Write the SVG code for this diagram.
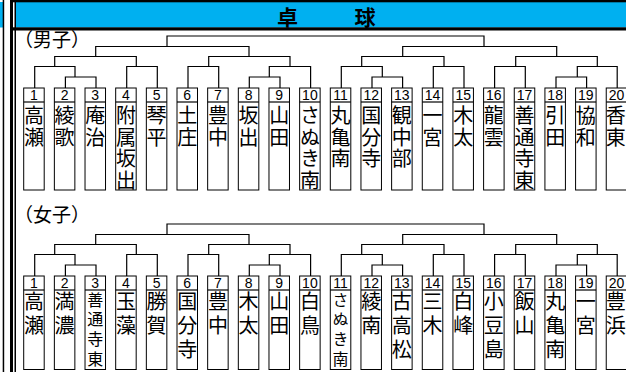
<svg xmlns="http://www.w3.org/2000/svg" width="626" height="372" viewBox="0 0 626 372">
<style>
.box{fill:#fff;stroke:#000;stroke-width:1}
.num{font-family:"Liberation Sans",Arial,sans-serif;font-size:14px;text-anchor:middle;fill:#000}
.nm{font-family:"Noto Sans CJK JP",sans-serif;font-size:20px;writing-mode:vertical-rl;text-anchor:start;fill:#000}
.mv{letter-spacing:1.7px}
.wv{letter-spacing:4px}
.ws{font-size:16px;letter-spacing:3.7px}
.conn{fill:none;stroke:#000;stroke-width:1.2}
.lbl{font-family:"Noto Sans CJK JP",sans-serif;font-size:19px;fill:#000}
.ttl{font-family:"Noto Sans CJK JP",sans-serif;font-size:21px;font-weight:bold;text-anchor:middle;fill:#000}
</style>
<rect width="626" height="372" fill="#fff"/>
<g id="frame">
<rect x="0" y="2" width="3" height="25.5" fill="#00B0F0"/>
<rect x="16" y="2" width="610" height="25.5" fill="#00B0F0"/>
<rect x="10" y="0" width="616" height="2.3" fill="#000"/>
<rect x="10" y="27.3" width="616" height="3.2" fill="#000"/>
<rect x="2.7" y="0" width="1.5" height="372" fill="#000"/>
<rect x="10" y="0" width="3" height="372" fill="#000"/>
<rect x="14.5" y="0" width="1.5" height="372" fill="#000"/>
</g>
<g id="title">
<text class="ttl" x="287.5" y="25">卓</text>
<text class="ttl" x="365" y="25">球</text>
</g>
<text id="lbl-men" class="lbl" x="14" y="47">（男子）</text>
<text id="lbl-women" class="lbl" x="14" y="221.5">（女子）</text>
<defs>
<g id="bracket">
<path d="M167,46.5V36H484V46.5"/>
<path d="M95.7,56.5V46.5H249V56.5"/>
<path d="M402.7,56.5V46.5H556.7V56.5"/>
<path d="M54.7,66.5V56.5H136.3V66.5"/>
<path d="M208.7,66.5V56.5H290V66.5"/>
<path d="M361.7,66.5V56.5H444V66.5"/>
<path d="M515.7,66.5V56.5H597.3V66.5"/>
<path d="M34.7,88V66.5H75V77"/>
<path d="M126.7,88V66.5H157.3V88"/>
<path d="M188,88V66.5H218.7V88"/>
<path d="M269.3,77V66.5H310.6V88"/>
<path d="M341.3,88V66.5H382.3V77"/>
<path d="M433.3,88V66.5H464V88"/>
<path d="M494.6,88V66.5H525.3V88"/>
<path d="M577.3,77V66.5H617.2V88"/>
<path d="M65.4,88V77H96V88"/>
<path d="M249.3,88V77H280V88"/>
<path d="M372,88V77H402.6V88"/>
<path d="M556,88V77H586.6V88"/>
</g>
</defs>
<g id="connectors" class="conn">
<use href="#bracket"/>
<use href="#bracket" transform="translate(0,188)"/>
</g>
<g id="men">
<g id="m1" transform="translate(23.7,88)"><rect class="box" width="20.5" height="102"/><path class="conn" d="M0,14H20.5"/><text class="num" x="10.25" y="12">1</text><text class="nm mv" x="10.25" y="17.5">高瀬</text></g>
<g id="m2" transform="translate(54.36,88)"><rect class="box" width="20.5" height="102"/><path class="conn" d="M0,14H20.5"/><text class="num" x="10.25" y="12">2</text><text class="nm mv" x="10.25" y="17.5">綾歌</text></g>
<g id="m3" transform="translate(85.02,88)"><rect class="box" width="20.5" height="102"/><path class="conn" d="M0,14H20.5"/><text class="num" x="10.25" y="12">3</text><text class="nm mv" x="10.25" y="17.5">庵治</text></g>
<g id="m4" transform="translate(115.68,88)"><rect class="box" width="20.5" height="102"/><path class="conn" d="M0,14H20.5"/><text class="num" x="10.25" y="12">4</text><text class="nm mv" x="10.25" y="17.5">附属坂出</text></g>
<g id="m5" transform="translate(146.34,88)"><rect class="box" width="20.5" height="102"/><path class="conn" d="M0,14H20.5"/><text class="num" x="10.25" y="12">5</text><text class="nm mv" x="10.25" y="17.5">琴平</text></g>
<g id="m6" transform="translate(177,88)"><rect class="box" width="20.5" height="102"/><path class="conn" d="M0,14H20.5"/><text class="num" x="10.25" y="12">6</text><text class="nm mv" x="10.25" y="17.5">土庄</text></g>
<g id="m7" transform="translate(207.66,88)"><rect class="box" width="20.5" height="102"/><path class="conn" d="M0,14H20.5"/><text class="num" x="10.25" y="12">7</text><text class="nm mv" x="10.25" y="17.5">豊中</text></g>
<g id="m8" transform="translate(238.32,88)"><rect class="box" width="20.5" height="102"/><path class="conn" d="M0,14H20.5"/><text class="num" x="10.25" y="12">8</text><text class="nm mv" x="10.25" y="17.5">坂出</text></g>
<g id="m9" transform="translate(268.98,88)"><rect class="box" width="20.5" height="102"/><path class="conn" d="M0,14H20.5"/><text class="num" x="10.25" y="12">9</text><text class="nm mv" x="10.25" y="17.5">山田</text></g>
<g id="m10" transform="translate(299.64,88)"><rect class="box" width="20.5" height="102"/><path class="conn" d="M0,14H20.5"/><text class="num" x="10.25" y="12">10</text><text class="nm mv" x="10.25" y="17.5">さぬき南</text></g>
<g id="m11" transform="translate(330.3,88)"><rect class="box" width="20.5" height="102"/><path class="conn" d="M0,14H20.5"/><text class="num" x="10.25" y="12">11</text><text class="nm mv" x="10.25" y="17.5">丸亀南</text></g>
<g id="m12" transform="translate(360.96,88)"><rect class="box" width="20.5" height="102"/><path class="conn" d="M0,14H20.5"/><text class="num" x="10.25" y="12">12</text><text class="nm mv" x="10.25" y="17.5">国分寺</text></g>
<g id="m13" transform="translate(391.62,88)"><rect class="box" width="20.5" height="102"/><path class="conn" d="M0,14H20.5"/><text class="num" x="10.25" y="12">13</text><text class="nm mv" x="10.25" y="17.5">観中部</text></g>
<g id="m14" transform="translate(422.28,88)"><rect class="box" width="20.5" height="102"/><path class="conn" d="M0,14H20.5"/><text class="num" x="10.25" y="12">14</text><text class="nm mv" x="10.25" y="17.5">一宮</text></g>
<g id="m15" transform="translate(452.94,88)"><rect class="box" width="20.5" height="102"/><path class="conn" d="M0,14H20.5"/><text class="num" x="10.25" y="12">15</text><text class="nm mv" x="10.25" y="17.5">木太</text></g>
<g id="m16" transform="translate(483.6,88)"><rect class="box" width="20.5" height="102"/><path class="conn" d="M0,14H20.5"/><text class="num" x="10.25" y="12">16</text><text class="nm mv" x="10.25" y="17.5">龍雲</text></g>
<g id="m17" transform="translate(514.26,88)"><rect class="box" width="20.5" height="102"/><path class="conn" d="M0,14H20.5"/><text class="num" x="10.25" y="12">17</text><text class="nm mv" x="10.25" y="17.5">善通寺東</text></g>
<g id="m18" transform="translate(544.92,88)"><rect class="box" width="20.5" height="102"/><path class="conn" d="M0,14H20.5"/><text class="num" x="10.25" y="12">18</text><text class="nm mv" x="10.25" y="17.5">引田</text></g>
<g id="m19" transform="translate(575.58,88)"><rect class="box" width="20.5" height="102"/><path class="conn" d="M0,14H20.5"/><text class="num" x="10.25" y="12">19</text><text class="nm mv" x="10.25" y="17.5">協和</text></g>
<g id="m20" transform="translate(606.24,88)"><rect class="box" width="20.5" height="102"/><path class="conn" d="M0,14H20.5"/><text class="num" x="10.25" y="12">20</text><text class="nm mv" x="9.6" y="17.5">香東</text></g>
</g>
<g id="women">
<g id="w1" transform="translate(23.7,276)"><rect class="box" width="20.5" height="93.5"/><path class="conn" d="M0,14H20.5"/><text class="num" x="10.25" y="12">1</text><text class="nm wv" x="10.25" y="15.5">高瀬</text></g>
<g id="w2" transform="translate(54.36,276)"><rect class="box" width="20.5" height="93.5"/><path class="conn" d="M0,14H20.5"/><text class="num" x="10.25" y="12">2</text><text class="nm wv" x="10.25" y="15.5">満濃</text></g>
<g id="w3" transform="translate(85.02,276)"><rect class="box" width="20.5" height="93.5"/><path class="conn" d="M0,14H20.5"/><text class="num" x="10.25" y="12">3</text><text class="nm ws" x="10.25" y="15.5">善通寺東</text></g>
<g id="w4" transform="translate(115.68,276)"><rect class="box" width="20.5" height="93.5"/><path class="conn" d="M0,14H20.5"/><text class="num" x="10.25" y="12">4</text><text class="nm wv" x="10.25" y="15.5">玉藻</text></g>
<g id="w5" transform="translate(146.34,276)"><rect class="box" width="20.5" height="93.5"/><path class="conn" d="M0,14H20.5"/><text class="num" x="10.25" y="12">5</text><text class="nm wv" x="10.25" y="15.5">勝賀</text></g>
<g id="w6" transform="translate(177,276)"><rect class="box" width="20.5" height="93.5"/><path class="conn" d="M0,14H20.5"/><text class="num" x="10.25" y="12">6</text><text class="nm wv" x="10.25" y="15.5">国分寺</text></g>
<g id="w7" transform="translate(207.66,276)"><rect class="box" width="20.5" height="93.5"/><path class="conn" d="M0,14H20.5"/><text class="num" x="10.25" y="12">7</text><text class="nm wv" x="10.25" y="15.5">豊中</text></g>
<g id="w8" transform="translate(238.32,276)"><rect class="box" width="20.5" height="93.5"/><path class="conn" d="M0,14H20.5"/><text class="num" x="10.25" y="12">8</text><text class="nm wv" x="10.25" y="15.5">木太</text></g>
<g id="w9" transform="translate(268.98,276)"><rect class="box" width="20.5" height="93.5"/><path class="conn" d="M0,14H20.5"/><text class="num" x="10.25" y="12">9</text><text class="nm wv" x="10.25" y="15.5">山田</text></g>
<g id="w10" transform="translate(299.64,276)"><rect class="box" width="20.5" height="93.5"/><path class="conn" d="M0,14H20.5"/><text class="num" x="10.25" y="12">10</text><text class="nm wv" x="10.25" y="15.5">白鳥</text></g>
<g id="w11" transform="translate(330.3,276)"><rect class="box" width="20.5" height="93.5"/><path class="conn" d="M0,14H20.5"/><text class="num" x="10.25" y="12">11</text><text class="nm ws" x="10.25" y="15.5">さぬき南</text></g>
<g id="w12" transform="translate(360.96,276)"><rect class="box" width="20.5" height="93.5"/><path class="conn" d="M0,14H20.5"/><text class="num" x="10.25" y="12">12</text><text class="nm wv" x="10.25" y="15.5">綾南</text></g>
<g id="w13" transform="translate(391.62,276)"><rect class="box" width="20.5" height="93.5"/><path class="conn" d="M0,14H20.5"/><text class="num" x="10.25" y="12">13</text><text class="nm wv" x="10.25" y="15.5">古高松</text></g>
<g id="w14" transform="translate(422.28,276)"><rect class="box" width="20.5" height="93.5"/><path class="conn" d="M0,14H20.5"/><text class="num" x="10.25" y="12">14</text><text class="nm wv" x="10.25" y="15.5">三木</text></g>
<g id="w15" transform="translate(452.94,276)"><rect class="box" width="20.5" height="93.5"/><path class="conn" d="M0,14H20.5"/><text class="num" x="10.25" y="12">15</text><text class="nm wv" x="10.25" y="15.5">白峰</text></g>
<g id="w16" transform="translate(483.6,276)"><rect class="box" width="20.5" height="93.5"/><path class="conn" d="M0,14H20.5"/><text class="num" x="10.25" y="12">16</text><text class="nm wv" x="10.25" y="15.5">小豆島</text></g>
<g id="w17" transform="translate(514.26,276)"><rect class="box" width="20.5" height="93.5"/><path class="conn" d="M0,14H20.5"/><text class="num" x="10.25" y="12">17</text><text class="nm wv" x="10.25" y="15.5">飯山</text></g>
<g id="w18" transform="translate(544.92,276)"><rect class="box" width="20.5" height="93.5"/><path class="conn" d="M0,14H20.5"/><text class="num" x="10.25" y="12">18</text><text class="nm wv" x="10.25" y="15.5">丸亀南</text></g>
<g id="w19" transform="translate(575.58,276)"><rect class="box" width="20.5" height="93.5"/><path class="conn" d="M0,14H20.5"/><text class="num" x="10.25" y="12">19</text><text class="nm wv" x="10.25" y="15.5">一宮</text></g>
<g id="w20" transform="translate(606.24,276)"><rect class="box" width="20.5" height="93.5"/><path class="conn" d="M0,14H20.5"/><text class="num" x="10.25" y="12">20</text><text class="nm wv" x="9.6" y="15.5">豊浜</text></g>
</g>
</svg>
